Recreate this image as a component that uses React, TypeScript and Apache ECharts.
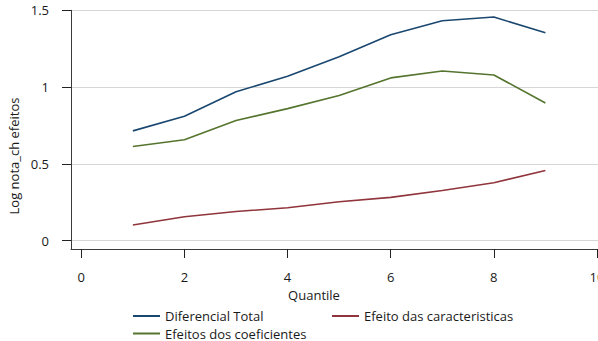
import React, { useEffect, useRef } from "react";
import * as echarts from "echarts";

const quantiles = [1, 2, 3, 4, 5, 6, 7, 8, 9];
const diferencialTotal = [0.715, 0.81, 0.97, 1.07, 1.198, 1.341, 1.432, 1.456, 1.354];
const efeitoCaracteristicas = [0.102, 0.156, 0.19, 0.215, 0.254, 0.282, 0.327, 0.377, 0.457];
const efeitosCoeficientes = [0.613, 0.657, 0.782, 0.86, 0.945, 1.06, 1.105, 1.079, 0.897];
const xTicks = [0, 2, 4, 6, 8, 10];
const yTicks = [0, 0.5, 1, 1.5];

const FONT = "'Open Sans', 'Noto Sans', sans-serif";
const TEXT = "#1a1a1a";
const FS = 13;

export default function App() {
  const ref = useRef<HTMLDivElement>(null);
  useEffect(() => {
    document.body.style.margin = "0";
    if (!ref.current) return;
    const chart = echarts.init(ref.current, null, { renderer: "svg" });
    const mk = (name: string, vals: number[], color: string) => ({
      name,
      type: "line",
      data: quantiles.map((q, i) => [q, vals[i]]),
      symbol: "none",
      lineStyle: { color, width: 1.6 },
      itemStyle: { color },
    });
    const legend = (name: string, left: number, top: number) => ({
      data: [name],
      left,
      top,
      padding: 0,
      icon: "rect",
      itemWidth: 27,
      itemHeight: 2,
      selectedMode: false,
      textStyle: { fontFamily: FONT, fontSize: FS, color: TEXT, lineHeight: 14 },
    });
    chart.setOption({
      animation: false,
      textStyle: { fontFamily: FONT },
      grid: { left: 71, right: 0, top: 10.3, bottom: 92, outerBoundsMode: "none", containLabel: false },
      xAxis: {
        type: "value",
        min: -0.2,
        max: 10.02,
        axisLine: { show: true, onZero: false, lineStyle: { color: "#3a3a3a", width: 1 } },
        axisTick: { show: true, length: 9, customValues: xTicks, lineStyle: { color: "#222", width: 1 } },
        axisLabel: {
          customValues: xTicks,
          margin: 21,
          fontSize: FS,
          fontFamily: FONT,
          color: TEXT,
          showMinLabel: true,
          showMaxLabel: true,
          hideOverlap: false,
        },
        splitLine: { show: false },
      },
      yAxis: {
        type: "value",
        min: -0.054,
        max: 1.5,
        axisLine: { show: true, onZero: false, lineStyle: { color: "#3a3a3a", width: 1 } },
        axisTick: { show: true, length: 9, customValues: yTicks, lineStyle: { color: "#222", width: 1 } },
        axisLabel: {
          customValues: yTicks,
          margin: 22,
          fontSize: FS,
          fontFamily: FONT,
          color: TEXT,
          formatter: (v: number) => String(v),
        },
        splitLine: { show: true, lineStyle: { color: "#d6d6d6", width: 1 } },
      },
      legend: [
        legend("Diferencial Total", 133, 309),
        legend("Efeito das caracteristicas", 332, 309),
        legend("Efeitos dos coeficientes", 133, 326.5),
      ],
      graphic: [
        {
          type: "text",
          x: 14,
          y: 156,
          rotation: Math.PI / 2,
          style: {
            text: "Log nota_ch efeitos",
            fontFamily: FONT,
            fontSize: FS,
            fill: TEXT,
            align: "center",
            verticalAlign: "middle",
          },
        },
        {
          type: "text",
          x: 314,
          y: 295,
          style: {
            text: "Quantile",
            fontFamily: FONT,
            fontSize: FS,
            fill: TEXT,
            align: "center",
            verticalAlign: "middle",
          },
        },
      ],
      series: [
        mk("Diferencial Total", diferencialTotal, "#1a476f"),
        mk("Efeito das caracteristicas", efeitoCaracteristicas, "#90353b"),
        mk("Efeitos dos coeficientes", efeitosCoeficientes, "#55752f"),
      ],
    });
    return () => chart.dispose();
  }, []);
  return <div ref={ref} style={{ width: 598, height: 341 }} />;
}
